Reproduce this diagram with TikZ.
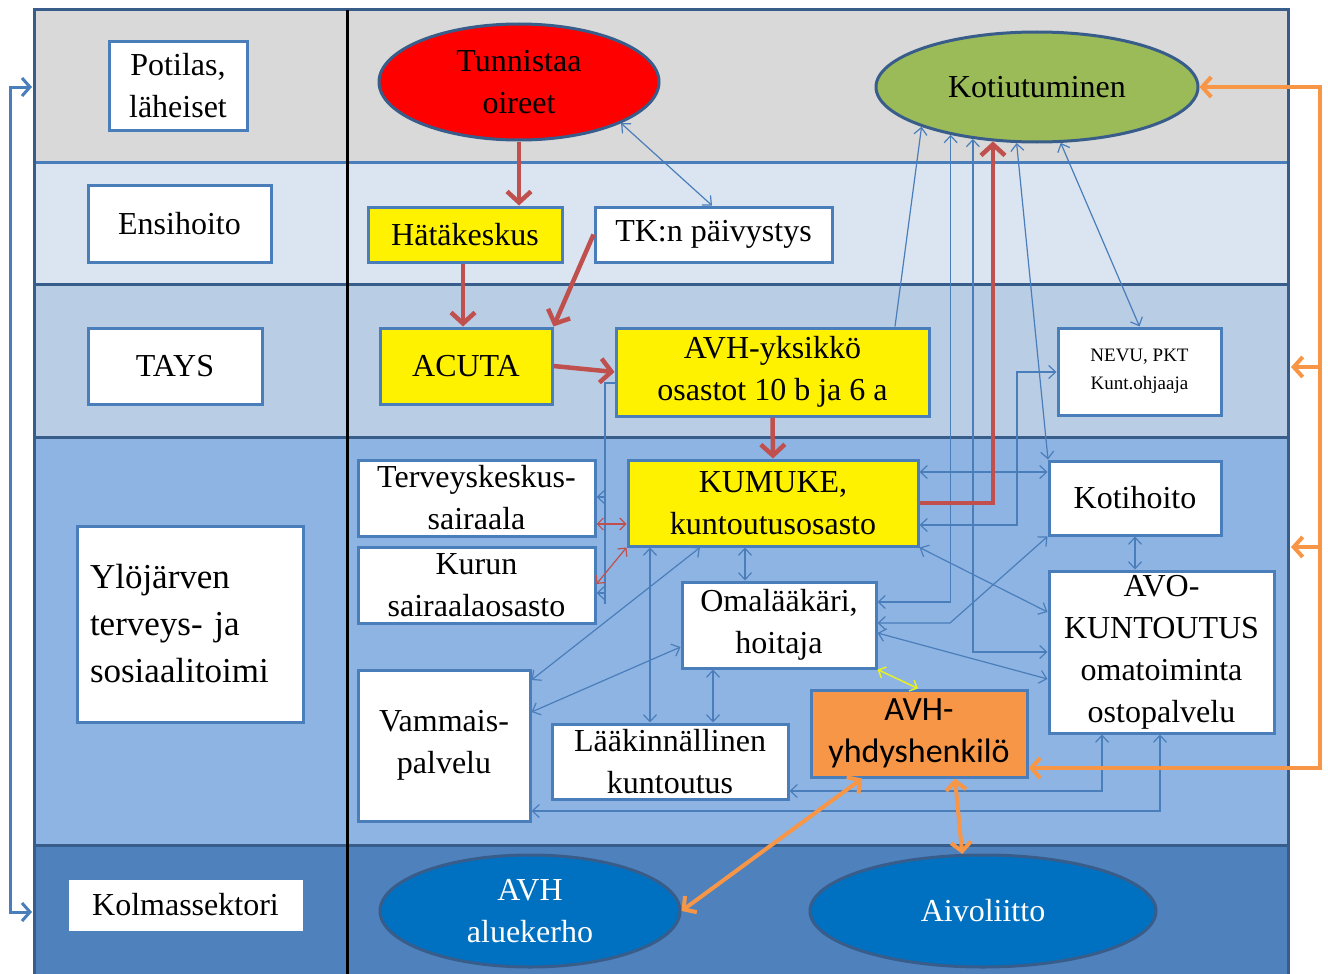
\documentclass[tikz,border=0pt]{standalone}
\usepackage{fontspec}
\setmainfont{Liberation Serif}
\newfontfamily\calib{Carlito}
\usetikzlibrary{arrows.meta,shapes.geometric}
\definecolor{bandA}{HTML}{D9D9D9}
\definecolor{bandB}{HTML}{DBE5F1}
\definecolor{bandC}{HTML}{B9CDE5}
\definecolor{bandD}{HTML}{8EB4E3}
\definecolor{bandE}{HTML}{4F81BD}
\definecolor{dkblue}{HTML}{385D8A}
\definecolor{boxblue}{HTML}{4A7EBB}
\definecolor{arrblue}{HTML}{4A7EBB}
\definecolor{ellred}{HTML}{FF0000}
\definecolor{ellgreen}{HTML}{9BBB59}
\definecolor{ellblue}{HTML}{0070C0}
\definecolor{orng}{HTML}{F79646}
\definecolor{redarr}{HTML}{C0504D}
\definecolor{yelarr}{HTML}{E8F020}
\begin{document}
\begin{tikzpicture}[x=1pt,y=-1pt,
  txt/.style={font=\fontsize{32}{42}\selectfont},
  wbox/.style={draw=boxblue, line width=3pt, fill=white, align=center, inner sep=0pt, txt},
  ybox/.style={wbox, fill=yellow},
  obox/.style={wbox, fill=orng, font=\calib\fontsize{34}{42}\selectfont},
  ell/.style={ellipse, draw=dkblue, line width=3pt, align=center, inner sep=0pt, txt},
  bl/.style={draw=arrblue, line width=1.2pt, arrows={Straight Barb[length=7pt,width=13pt]-Straight Barb[length=7pt,width=13pt]}},
  blend/.style={draw=arrblue, line width=1.2pt, -{Straight Barb[length=7pt,width=13pt]}},
  blplain/.style={draw=arrblue, line width=1.2pt},
  rd/.style={draw=redarr, line width=4.5pt, -{Straight Barb[length=11pt,width=24pt]}},
  rdthin/.style={draw=redarr, line width=1.2pt, arrows={Straight Barb[length=6pt,width=12pt]-Straight Barb[length=6pt,width=12pt]}},
  yl/.style={draw=yelarr, line width=1.5pt, arrows={Straight Barb[length=6pt,width=12pt]-Straight Barb[length=6pt,width=12pt]}},
  og/.style={draw=orng, line width=4pt, arrows={Straight Barb[length=9pt,width=20pt]-Straight Barb[length=9pt,width=20pt]}},
  ogend/.style={draw=orng, line width=4pt, -{Straight Barb[length=9pt,width=20pt]}},
  lb/.style={draw=boxblue, line width=3pt, arrows={Straight Barb[length=8pt,width=18pt]-Straight Barb[length=8pt,width=18pt]}}
]
\useasboundingbox (0,0) rectangle (1328,974);
\fill[white] (0,0) rectangle (1328,974);
% bands
\fill[bandA] (34,10) rectangle (1288,162);
\fill[bandB] (34,162) rectangle (1288,284);
\fill[bandC] (34,284) rectangle (1288,437);
\fill[bandD] (34,437) rectangle (1288,845);
\fill[bandE] (34,845) rectangle (1288,974);
\draw[boxblue, line width=3pt] (34,162) -- (1288,162);
\draw[dkblue, line width=3pt] (34,284) -- (1288,284);
\draw[dkblue, line width=3pt] (34,437) -- (1288,437);
\draw[dkblue, line width=3pt] (34,845) -- (1288,845);
\draw[dkblue, line width=3pt] (34,974) -- (34,10) -- (1288,10) -- (1288,974);
\draw[black, line width=3pt] (347,10) -- (347,974);

% hidden connector behind AVH-yksikko
\draw[blplain] (620,383) -- (605,383) -- (605,604);

% left column labels
\node[wbox, minimum width=138pt, minimum height=88pt] (potilas) at (178,86) {Potilas,\\läheiset};
\node[wbox, minimum width=183pt, minimum height=77pt] (ensi) at (179.5,223.5) {Ensihoito};
\node[wbox, minimum width=174pt, minimum height=76pt] (tays) at (175,366) {TAYS};
\node[wbox, minimum width=226pt, minimum height=196pt, text width=200pt, align=left, inner xsep=13pt,
      font=\fontsize{35}{47}\selectfont] (ylo) at (190,624) {Ylöjärven\\terveys- ja\\sosiaalitoimi};
\node[wbox, draw=white, line width=0pt, minimum width=233pt, minimum height=50pt] (kolmas) at (185.5,905) {Kolmassektori};

% right column nodes
\node[ell, fill=ellred, minimum width=280pt, minimum height=116pt] (tunn) at (519,82) {Tunnistaa\\oireet};
\node[ell, fill=ellgreen, minimum width=322pt, minimum height=110pt] (kotiut) at (1037,87) {Kotiutuminen};
\node[ybox, minimum width=194pt, minimum height=55pt] (hata) at (465,234.5) {Hätäkeskus};
\node[wbox, minimum width=237pt, minimum height=55pt] (tk) at (713.5,234.5) {TK:n päivystys};
\node[ybox, minimum width=172pt, minimum height=76pt] (acuta) at (466,366) {ACUTA};
\node[ybox, minimum width=313pt, minimum height=88pt] (avhy) at (772.5,372) {AVH-yksikkö\\osastot 10 b ja 6 a};
\node[wbox, minimum width=163pt, minimum height=87pt, font=\fontsize{19}{28}\selectfont] (nevu) at (1139.5,371.5) {NEVU, PKT\\Kunt.ohjaaja};
\node[wbox, minimum width=237pt, minimum height=76pt] (terv) at (476.5,498) {Terveyskeskus-\\sairaala};
\node[wbox, minimum width=237pt, minimum height=76pt] (kurun) at (476.5,585) {Kurun\\sairaalaosasto};
\node[ybox, minimum width=290pt, minimum height=86pt] (kumuke) at (773,503) {KUMUKE,\\kuntoutusosasto};
\node[wbox, minimum width=172pt, minimum height=74pt] (kotih) at (1135,498) {Kotihoito};
\node[wbox, minimum width=225pt, minimum height=162pt] (avo) at (1161.5,652) {AVO-\\KUNTOUTUS\\omatoiminta\\ostopalvelu};
\node[wbox, minimum width=194pt, minimum height=86pt] (omal) at (779,625) {Omalääkäri,\\hoitaja};
\node[wbox, minimum width=172pt, minimum height=151pt] (vamm) at (444,745.5) {Vammais-\\palvelu};
\node[wbox, minimum width=236pt, minimum height=75pt] (laak) at (670,761.5) {Lääkinnällinen\\kuntoutus};
\node[obox, minimum width=216pt, minimum height=87pt] (avhyh) at (919,733.5) {AVH-\\yhdyshenkilö};
\node[ell, fill=ellblue, text=white, minimum width=300pt, minimum height=112pt] (alue) at (530,911) {AVH\\aluekerho};
\node[ell, fill=ellblue, text=white, minimum width=346pt, minimum height=112pt] (aivo) at (983,911) {Aivoliitto};

% thin blue connectors
\draw[bl] (tunn.-22.6) -- (tk.north -| 712,0);
\draw[blend] (avhy.north -| 895,0) -- (kotiut.-161.5);
\draw[bl] (kotiut.-151.2) |- (omal.east |- 0,602);
\draw[bl] (kotiut.-141.7) |- (avo.west |- 0,652);
\draw[bl] (kotiut.-110.1) -- (kotih.north -| 1048,0);
\draw[bl] (kotiut.-67.1) -- (nevu.north);
\draw[bl] (kumuke.east |- 0,525) -| (1017,372) -- (nevu.west |- 0,372);
\draw[bl] (kumuke.east |- 0,472) -- (kotih.west |- 0,472);
\draw[bl] (kumuke.south east) -- (avo.west |- 0,612);
\draw[bl] (omal.east |- 0,623) -- (950,623) -- (kotih.south west);
\draw[bl] (omal.east |- 0,633) -- (avo.west |- 0,679);
\draw[bl] (kotih.south) -- (kotih.south |- avo.north);
\draw[bl] (avo.south -| 1102,0) |- (laak.east |- 0,791);
\draw[bl] (avo.south -| 1160,0) |- (vamm.east |- 0,811);
\draw[bl] (kumuke.south -| 745,0) -- (omal.north -| 745,0);
\draw[bl] (kumuke.south -| 650,0) -- (laak.north -| 650,0);
\draw[bl] (omal.south -| 713,0) -- (laak.north -| 713,0);
\draw[bl] (kumuke.south -| 700,0) -- (vamm.east |- 0,680);
\draw[bl] (vamm.east |- 0,712) -- (omal.west |- 0,647);
\draw[blend] (605,497) -- (terv.east |- 0,497);
\draw[blend] (605,593) -- (kurun.east |- 0,593);

% thin red and yellow
\draw[rdthin] (terv.east |- 0,524) -- (kumuke.west |- 0,524);
\draw[rdthin] (kurun.east |- 0,584) -- (kumuke.south west);
\draw[yl] (omal.south east) -- (avhyh.north -| 918,0);

% thick red
\draw[rd] (tunn.south) -- (tunn.south |- hata.north);
\draw[rd] (hata.south -| 463,0) -- (acuta.north -| 463,0);
\draw[rd] (tk.west) -- (acuta.north east);
\draw[rd] (acuta.east) -- (avhy.west);
\draw[rd] (avhy.south) -- (kumuke.north);
\draw[rd] (kumuke.east) -| (kotiut.-129.8);

% orange
\coordinate (orA) at (1320,367);
\coordinate (orB) at (1320,547);
\coordinate (frA) at (1291,367);
\coordinate (frB) at (1291,547);
\draw[og] (kotiut.east) -- (1320,87) -- (1320,768) -- (avhyh.east |- 0,768);
\draw[ogend] (orA) -- (frA);
\draw[ogend] (orB) -- (frB);
\draw[og] (avhyh.south -| 862,0) -- (alue.east);
\draw[og] (avhyh.south -| 955,0) -- (aivo.110.7);

% left loop
\coordinate (ltop) at (32,87);
\coordinate (lbot) at (32,912);
\draw[lb] (ltop) -- (10,87) -- (10,912) -- (lbot);
\end{tikzpicture}
\end{document}
